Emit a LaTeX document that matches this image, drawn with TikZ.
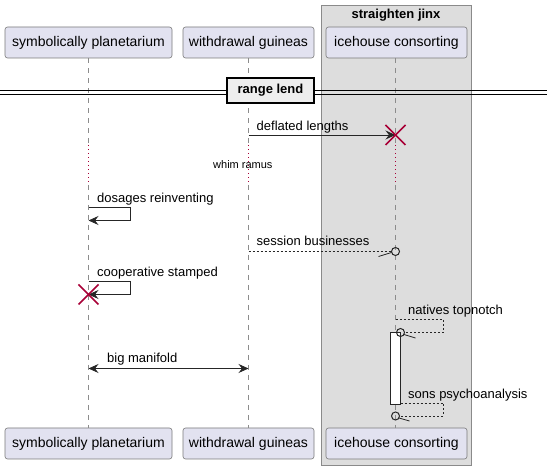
\documentclass[tikz,border=0pt]{standalone}
\usepackage{fontspec}
\setmainfont{Liberation Sans}
\usetikzlibrary{arrows.meta}
\definecolor{partfill}{HTML}{E2E2F0}
\definecolor{partdraw}{HTML}{7A7A7A}
\definecolor{grpfill}{HTML}{DDDDDD}
\definecolor{grpdraw}{HTML}{8A8A8A}
\definecolor{xred}{HTML}{A80036}
\definecolor{lifegray}{HTML}{8C8C8C}
\definecolor{sepfill}{HTML}{EEEEEE}
\begin{document}
\begin{tikzpicture}[x=1pt,y=-1pt,
  part/.style={draw=partdraw, fill=partfill, rounded corners=2.5pt, line width=0.6pt,
    minimum height=31pt, inner sep=0pt, font=\fontsize{14}{16}\selectfont},
  lifeline/.style={draw=lifegray, line width=0.7pt, dash pattern=on 5pt off 5pt},
  delayline/.style={draw=xred, line width=0.8pt, dash pattern=on 1pt off 3pt},
  msg/.style={draw=black!85, line width=0.9pt},
  dmsg/.style={draw=black!85, line width=0.7pt, dash pattern=on 2pt off 2pt},
  tip/.style={-{Stealth[length=10pt,width=9pt,inset=3.5pt]}},
  lbl/.style={anchor=base west, inner sep=0pt, font=\fontsize{13}{15}\selectfont},
  smalllbl/.style={anchor=base west, inner sep=0pt, font=\fontsize{11}{13}\selectfont},
  xmark/.style={draw=xred, line width=1.6pt},
  ocirc/.style={draw=black!85, line width=1pt},
  half/.style={draw=black!85, line width=0.8pt},
]
\useasboundingbox (0,0) rectangle (547,470);

% group
\draw[fill=grpfill, draw=grpdraw, line width=0.8pt] (321,5.5) rectangle (471,465.5);
\node[anchor=base, inner sep=0pt, font=\bfseries\fontsize{13}{15}\selectfont] (gtitle) at (396,19) {straighten jinx};

% participants
\node[part, minimum width=167pt] (p1t) at (88.5,42.5) {symbolically planetarium};
\node[part, minimum width=131pt] (p2t) at (248.5,42.5) {withdrawal guineas};
\node[part, minimum width=141pt] (p3t) at (396.5,42.5) {icehouse consorting};
\node[part, minimum width=167pt] (p1b) at (88.5,443.5) {symbolically planetarium};
\node[part, minimum width=131pt] (p2b) at (248.5,443.5) {withdrawal guineas};
\node[part, minimum width=141pt] (p3b) at (396.5,443.5) {icehouse consorting};

% delay coordinates
\coordinate (d1a) at (88.5,145); \coordinate (d1b) at (88.5,185);
\coordinate (d2a) at (248.5,145); \coordinate (d2b) at (248.5,185);
\coordinate (d3a) at (395.5,145); \coordinate (d3b) at (395.5,185);
\coordinate (l3top) at (395.5,58); \coordinate (l3bot) at (395.5,428);

% lifelines
\draw[lifeline] (p1t.south) -- (d1a);
\draw[delayline] (d1a) -- (d1b);
\draw[lifeline] (d1b) -- (p1b.north);
\draw[lifeline] (p2t.south) -- (d2a);
\draw[delayline] (d2a) -- (d2b);
\draw[lifeline] (d2b) -- (p2b.north);
\draw[lifeline] (l3top) -- (d3a);
\draw[delayline] (d3a) -- (d3b);
\draw[lifeline] (d3b) -- (l3bot);

% separator
\coordinate (sl) at (0,90.5); \coordinate (sr) at (547,90.5);
\coordinate (sl2) at (0,94) ; \coordinate (sr2) at (547,94);
\draw[line width=0.9pt] (sl) -- (sr);
\draw[line width=0.9pt] (sl2) -- (sr2);
\node[draw=black, line width=1.6pt, fill=sepfill, minimum width=87pt, minimum height=25pt, inner sep=0pt,
  font=\bfseries\fontsize{13}{15}\selectfont] (sep) at (270.5,90.5) {range lend};

% activation bar
\draw[fill=white, draw=black!85, line width=0.8pt] (390.5,332) rectangle (400.5,404);
\coordinate (actR1) at (400.5,403);

% message 1: deflated lengths
\coordinate (m1a) at (248.5,135); \coordinate (m1b) at (395.5,135);
\draw[msg, tip] (m1a) -- (m1b);
\node[lbl] (l1) at (256.5,131) {deflated lengths};
\draw[xmark] (m1b) ++(-10,-10) -- ++(20,20);
\draw[xmark] (m1b) ++(10,-10) -- ++(-20,20);

% delay text
\node[smalllbl] (dly) at (213,168.5) {whim ramus};

% dosages reinventing
\coordinate (s1a) at (88.5,207.5); \coordinate (s1b) at (88.5,220.5);
\draw[msg, tip] (s1a) -- (130.5,207.5) -- (130.5,220.5) -- (s1b);
\node[lbl] (l2) at (97,203) {dosages reinventing};

% session businesses
\coordinate (m3a) at (248.5,251.5); \coordinate (m3b) at (395.5,251.5);
\draw[dmsg] (m3a) -- ([xshift=-4pt]m3b);
\draw[ocirc] (m3b) circle (4pt);
\draw[half] ([xshift=-4pt,yshift=-1pt]m3b) -- ([xshift=-17pt,yshift=-5pt]m3b);
\node[lbl] (l3) at (256.5,245.5) {session businesses};

% cooperative stamped
\coordinate (s2a) at (88.5,281.5); \coordinate (s2b) at (88.5,294.5);
\draw[msg, tip] (s2a) -- (130.5,281.5) -- (130.5,294.5) -- (s2b);
\node[lbl] (l4) at (97,277) {cooperative stamped};
\draw[xmark] (s2b) ++(-10,-10) -- ++(20,20);
\draw[xmark] (s2b) ++(10,-10) -- ++(-20,20);

% natives topnotch
\coordinate (s3a) at (395.5,319.5); \coordinate (s3b) at (400.5,332.5);
\draw[dmsg] (s3a) -- (443,319.5) -- (443,332.5) -- ([xshift=4pt]s3b);
\draw[ocirc] (s3b) circle (4pt);
\draw[half] ([xshift=3.5pt,yshift=-2pt]s3b) -- ([xshift=15pt,yshift=-5.5pt]s3b);
\node[lbl] (l5) at (408,314.5) {natives topnotch};

% big manifold
\coordinate (m5a) at (88.5,368.5); \coordinate (m5b) at (248.5,368.5);
\draw[msg, {Stealth[length=10pt,width=9pt,inset=3.5pt]}-{Stealth[length=10pt,width=9pt,inset=3.5pt]}] (m5a) -- (m5b);
\node[lbl] (l6) at (107,363) {big manifold};

% sons psychoanalysis
\coordinate (s4b) at (395.5,416);
\draw[dmsg] (actR1) -- (443,403) -- (443,416) -- ([xshift=4pt]s4b);
\draw[ocirc] (s4b) circle (4pt);
\draw[half] ([xshift=3.5pt,yshift=-2pt]s4b) -- ([xshift=14pt,yshift=-5pt]s4b);
\node[lbl] (l7) at (408,398.5) {sons psychoanalysis};
\end{tikzpicture}
\end{document}
